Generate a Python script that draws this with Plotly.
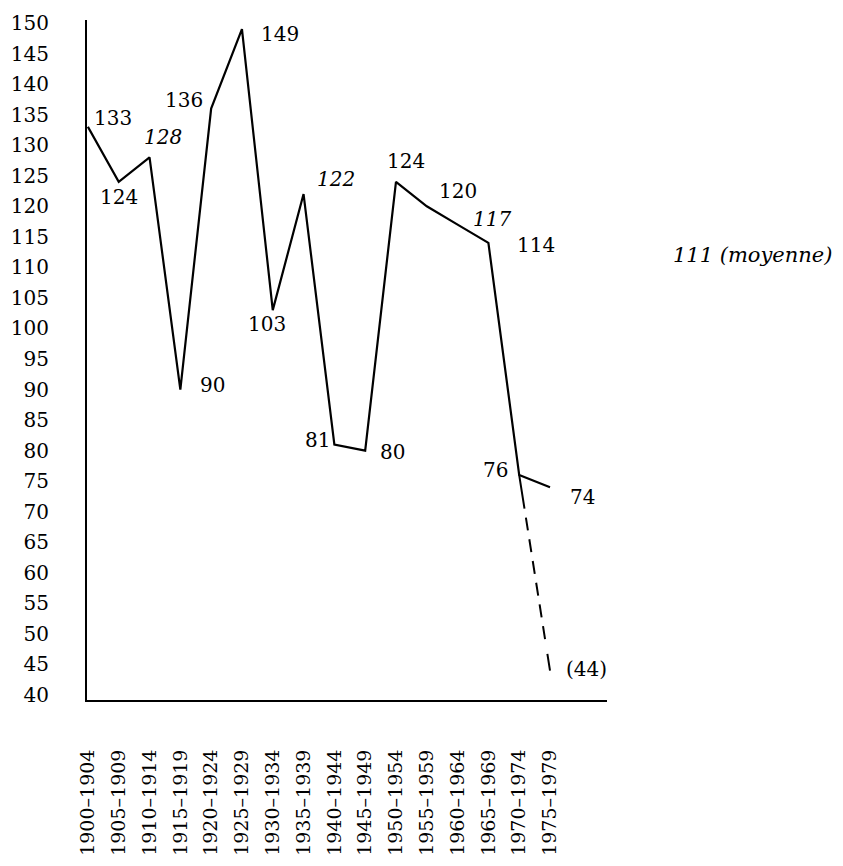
import plotly.graph_objects as go

periods = ["1900–1904", "1905–1909", "1910–1914", "1915–1919", "1920–1924",
           "1925–1929", "1930–1934", "1935–1939", "1940–1944", "1945–1949",
           "1950–1954", "1955–1959", "1960–1964", "1965–1969", "1970–1974",
           "1975–1979"]
values = [133, 124, 128, 90, 136, 149, 103, 122, 81, 80, 124, 120, 117, 114, 76, 74]
projection_value = 44
mean_value = 111
y_ticks = list(range(40, 151, 5))

# label offsets (pixels) for each value label
label_shift = [(25, 9), (0, -15), (13, 20), (32, 5), (-27, 9), (38, -5), (-6, -14),
               (32, 15), (-17, 5), (27, -1), (10, 21), (31, 15), (34, 6), (48, -2),
               (-24, 5), (32, -10)]
italic_idx = {2, 7, 12}

FONT = "DejaVu Serif"
idx = list(range(len(periods)))

fig = go.Figure()
fig.add_trace(go.Scatter(x=idx, y=values, mode="lines",
                         line=dict(color="black", width=2.2), cliponaxis=False,
                         showlegend=False))
fig.add_trace(go.Scatter(x=[idx[14], idx[15]], y=[values[14], projection_value], mode="lines",
                         line=dict(color="black", width=2,
                                   dash="34px,9px,13px,9px,13px,9px,13px,9px,13px,9px,13px,9px,13px,15px,18px,40px"),
                         cliponaxis=False, showlegend=False))

for i, v in enumerate(values):
    txt = f"<i>{v}</i>" if i in italic_idx else str(v)
    fig.add_annotation(x=i, y=v, text=txt, showarrow=False,
                       xshift=label_shift[i][0], yshift=label_shift[i][1],
                       font=dict(family=FONT, size=20, color="black"))
fig.add_annotation(x=15, y=projection_value, text=f"({projection_value})", showarrow=False,
                   xshift=36, yshift=2, font=dict(family=FONT, size=20, color="black"))
fig.add_annotation(x=1.279, xref="paper", y=mean_value, yref="y", xanchor="center",
                   yanchor="middle", yshift=6,
                   text=f"<i>{mean_value} (moyenne)</i>", showarrow=False,
                   font=dict(family=FONT, size=21, color="black"))

fig.update_layout(
    width=835, height=858,
    margin=dict(l=79, r=236, t=12, b=166),
    paper_bgcolor="white", plot_bgcolor="white",
    font=dict(family=FONT, color="black"),
)
fig.update_xaxes(range=[-0.03, 16.85], tickmode="array", tickvals=idx, ticktext=periods,
                 tickangle=-90, showgrid=False, zeroline=False, showline=True,
                 linecolor="black", linewidth=2, ticks="", ticklabelstandoff=40,
                 automargin=False,
                 tickfont=dict(family=FONT, size=19, color="black"))
fig.update_yaxes(range=[39.18, 150.49], tickmode="array", tickvals=y_ticks,
                 ticktext=[str(t) for t in y_ticks], showgrid=False, zeroline=False,
                 showline=True, linecolor="black", linewidth=2, ticks="",
                 ticklabelstandoff=32, automargin=False,
                 tickfont=dict(family=FONT, size=20, color="black"))

fig.write_html("out.html")
